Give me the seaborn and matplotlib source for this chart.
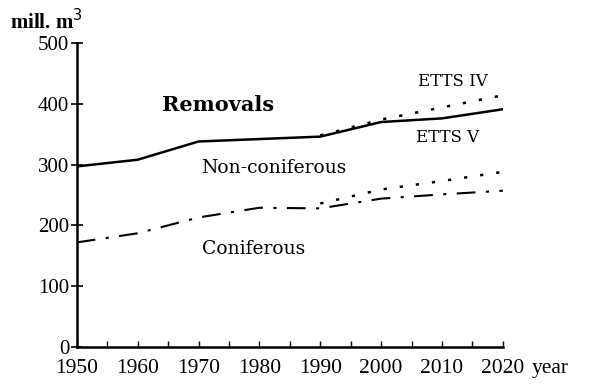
import matplotlib
matplotlib.use("Agg")
import matplotlib.pyplot as plt
import matplotlib.transforms as mtransforms
import seaborn as sns
import pandas as pd

years = [1950, 1960, 1970, 1980, 1990, 2000, 2010, 2020]
removals = [297, 308, 338, 342, 346, 370, 376, 391]
coniferous = [172, 187, 213, 229, 228, 244, 251, 257]

proj_years = [1990, 2000, 2010, 2020]
etts_iv = [348, 374, 394, 414]
conif_iv = [236, 259, 273, 288]

sns.set_theme(style="ticks")
plt.rcParams['font.family'] = ['Liberation Serif', 'DejaVu Serif']
plt.rcParams['text.color'] = 'black'

fig = plt.figure(figsize=(6, 3.88), dpi=100)
ax = fig.add_axes([0.128, 0.1057, 0.71, 0.7835])

df = pd.DataFrame({'year': years, 'removals': removals, 'coniferous': coniferous})
proj = pd.DataFrame({'year': proj_years, 'etts_iv': etts_iv, 'conif_iv': conif_iv})

sns.lineplot(data=df, x='year', y='removals', color='black', lw=1.8, ax=ax)
sns.lineplot(data=df, x='year', y='coniferous', color='black', lw=1.5, ax=ax,
             dashes=False, linestyle=(0, (9, 5, 1.5, 5)))
sns.lineplot(data=proj, x='year', y='etts_iv', color='black', lw=1.8, ax=ax,
             linestyle=(0, (1.3, 5.2)))
sns.lineplot(data=proj, x='year', y='conif_iv', color='black', lw=1.8, ax=ax,
             linestyle=(0, (1.3, 5.2)))

ax.set_xlim(1950, 2020)
ax.set_ylim(0, 500)
ax.set_xticks(years)
ax.set_xticks(range(1955, 2020, 10), minor=True)
ax.set_yticks([0, 100, 200, 300, 400, 500])
ax.set_xlabel('')
ax.set_ylabel('')
sns.despine(ax=ax)
for s in ['left', 'bottom']:
    ax.spines[s].set_color('black')
    ax.spines[s].set_linewidth(1.8)
xpad = 8.5
ax.tick_params(axis='x', which='both', direction='in', length=4, width=1, colors='black',
               labelsize=15.5, pad=xpad)
ax.tick_params(axis='y', direction='inout', length=9, width=1.2, colors='black',
               labelsize=15, pad=1)

ax.text(1973.2, 398, 'Removals', fontsize=15, fontweight='bold', family='DejaVu Serif',
        ha='center', va='center')
ax.text(2011.8, 437, 'ETTS IV', fontsize=12, family='DejaVu Serif', ha='center', va='center')
ax.text(2011.0, 344, 'ETTS V', fontsize=12, family='DejaVu Serif', ha='center', va='center')
ax.text(1970.5, 295, 'Non-coniferous', fontsize=13.5, family='DejaVu Serif', ha='left', va='center')
ax.text(1970.5, 161, 'Coniferous', fontsize=13.5, family='DejaVu Serif', ha='left', va='center')

fig.text(0.017, 0.945, 'mill. m$^3$', fontsize=15, fontweight='bold', ha='left', va='center')
year_tr = mtransforms.offset_copy(ax.transAxes, fig=fig, x=21, y=-xpad, units='points')
ax.text(1.0, 0.0, 'year', transform=year_tr, fontsize=15.5, ha='left', va='top')

fig.savefig('out.png', dpi=100, facecolor='white')
